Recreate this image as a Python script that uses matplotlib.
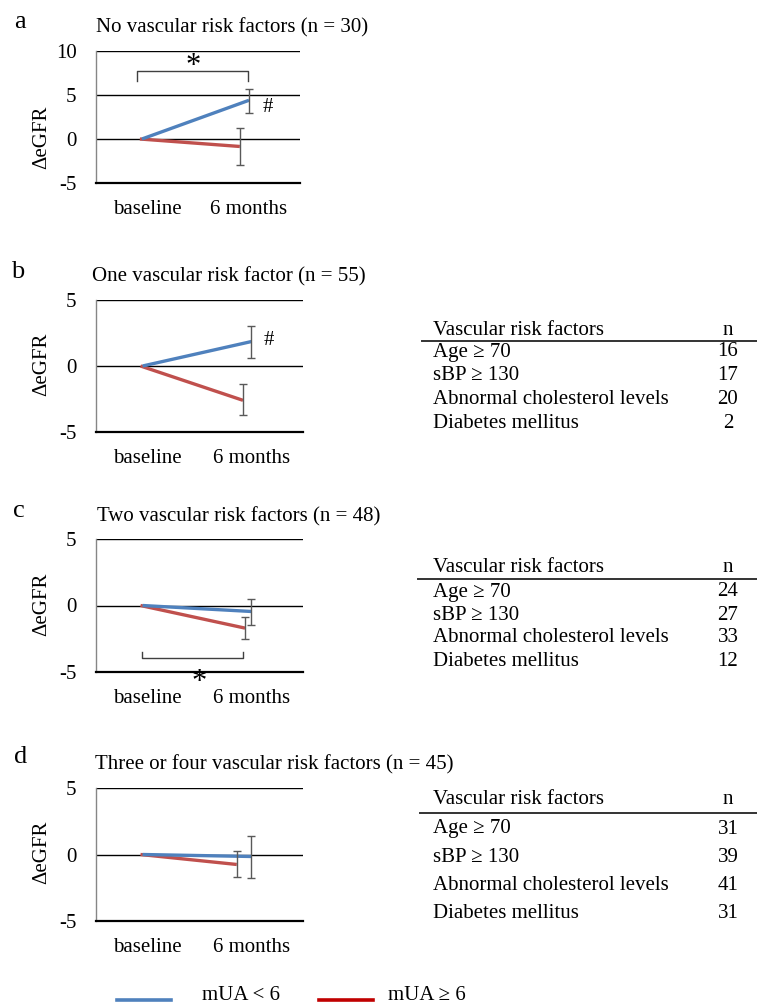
import matplotlib
matplotlib.use("Agg")
import matplotlib.pyplot as plt
import numpy as np

plt.rcParams['font.family'] = ['Liberation Serif', 'DejaVu Serif']

W, H = 757, 1006

# ---------------- data ----------------
panel_labels = ['a', 'b', 'c', 'd']
titles = ['No vascular risk factors (n = 30)',
          'One vascular risk factor (n = 55)',
          'Two vascular risk factors (n = 48)',
          'Three or four vascular risk factors (n = 45)']
categories = ['baseline', '6 months']

blue_6m = [4.4, 1.85, -0.45, -0.15]
blue_lo = [3.0, 0.6, -1.48, -1.74]
blue_hi = [5.65, 3.0, 0.5, 1.4]

red_6m = [-0.85, -2.6, -1.7, -0.75]
red_lo = [-2.95, -3.73, -2.55, -1.7]
red_hi = [1.25, -1.4, -0.83, 0.23]

baseline_val = 0.0

table_header = ['Vascular risk factors', 'n']
table_rows = ['Age \u2265 70', 'sBP \u2265 130', 'Abnormal cholesterol levels', 'Diabetes mellitus']
table_n_b = [16, 17, 20, 2]
table_n_c = [24, 27, 33, 12]
table_n_d = [31, 39, 41, 31]

legend_labels = ['mUA < 6', 'mUA \u2265 6']

# ---------------- style ----------------
BLUE = '#4F81BD'
RED = '#C0504D'
LEG_RED = '#C00000'
ERR = '#595959'
FS = 15

fig = plt.figure(figsize=(W / 100, H / 100), dpi=100)


def fx(x):
    return x / W


def fy(y):
    return 1 - y / H


def add_ax(x0, y0, x1, y1):
    return fig.add_axes([x0 / W, 1 - y1 / H, (x1 - x0) / W, (y1 - y0) / H])


axes_px = [(96, 51, 300, 183), (96, 300, 303, 432), (96, 539, 303, 672), (96, 788, 303, 921)]
ylims = [(-5, 10), (-5, 5), (-5, 5), (-5, 5)]
red_end_x = [0.91, 0.92, 0.94, 0.86]

for i in range(4):
    ax = add_ax(*axes_px[i])
    lo, hi = ylims[i]
    ax.set_xlim(-0.5, 1.5)
    ax.set_ylim(lo, hi)
    ticks = np.arange(lo, hi + 0.1, 5)
    ax.set_yticks(ticks)
    ax.set_yticklabels([f'{int(t)}' for t in ticks], fontsize=FS)
    for t in ticks[1:]:
        ax.axhline(t, color='black', lw=1.0, zorder=1)
    ax.set_xticks([0, 1])
    ax.set_xticklabels(categories, fontsize=FS)
    ax.tick_params(axis='both', length=0)
    ax.tick_params(axis='x', pad=12)
    ax.tick_params(axis='y', pad=14)
    for s in ['top', 'right']:
        ax.spines[s].set_visible(False)
    ax.spines['left'].set_color('#868686')
    ax.spines['left'].set_linewidth(1.0)
    ax.spines['bottom'].set_color('black')
    ax.spines['bottom'].set_linewidth(1.6)
    ax.patch.set_alpha(0)

    # series
    bx = [-0.05, 1.0]
    rx = [-0.07, red_end_x[i]]
    ax.plot(rx, [baseline_val, red_6m[i]], color=RED, lw=2.4, zorder=3, solid_capstyle='butt')
    ax.plot(bx, [baseline_val, blue_6m[i]], color=BLUE, lw=2.4, zorder=4, solid_capstyle='butt')
    ax.errorbar([rx[1]], [red_6m[i]],
                yerr=[[red_6m[i] - red_lo[i]], [red_hi[i] - red_6m[i]]],
                fmt='none', ecolor=ERR, elinewidth=1.0, capsize=2.8, capthick=1.0, zorder=5)
    ax.errorbar([bx[1]], [blue_6m[i]],
                yerr=[[blue_6m[i] - blue_lo[i]], [blue_hi[i] - blue_6m[i]]],
                fmt='none', ecolor=ERR, elinewidth=1.0, capsize=2.8, capthick=1.0, zorder=5)

    if i == 0:
        ax.plot([-0.1, -0.1, 0.99, 0.99], [6.6, 7.7, 7.7, 6.6], color='#404040', lw=1.0)
        ax.text(0.45, 8.2, '*', fontsize=22, ha='center', va='center')
        ax.text(1.18, 3.6, '#', fontsize=FS, ha='center', va='center')
    if i == 1:
        ax.text(1.17, 1.95, '#', fontsize=FS, ha='center', va='center')
    if i == 2:
        ax.plot([-0.06, -0.06, 0.92, 0.92], [-3.47, -3.97, -3.97, -3.47], color='#404040', lw=1.0)
        ax.text(0.5, -5.8, '*', fontsize=22, ha='center', va='center', clip_on=False, zorder=6)

# y labels
ylab_pos = [(42, 137), (42, 364), (42, 604), (42, 852)]
for (x, y) in ylab_pos:
    fig.text(fx(x), fy(y), '\u0394eGFR', rotation=90, ha='center', va='center', fontsize=FS)

# panel labels
plab_pos = [(20, 22), (18, 272), (19, 511), (21, 757)]
for lab, (x, y) in zip(panel_labels, plab_pos):
    fig.text(fx(x), fy(y), lab, ha='center', va='center', fontsize=19)

# titles
title_pos = [(96, 28), (92, 277), (97, 517), (95, 765)]
for t, (x, y) in zip(titles, title_pos):
    fig.text(fx(x), fy(y), t, ha='left', va='center', fontsize=FS)

# tables
tables = [
    (table_n_b, 330, 341, [352, 376, 399, 423], 422),
    (table_n_c, 567, 579, [592, 615, 638, 661], 418),
    (table_n_d, 800, 813, [829, 857, 885, 913], 420),
]
for nvals, hy, ly, rys, lx0 in tables:
    fig.text(fx(433), fy(hy), table_header[0], ha='left', va='center', fontsize=FS)
    fig.text(fx(728), fy(hy), table_header[1], ha='center', va='center', fontsize=FS)
    fig.add_artist(plt.Line2D([fx(lx0), fx(757)], [fy(ly), fy(ly)], color='#333333', lw=1.4))
    for name, n, ry in zip(table_rows, nvals, rys):
        fig.text(fx(433), fy(ry), name, ha='left', va='center', fontsize=FS)
        fig.text(fx(728), fy(ry), str(n), ha='center', va='center', fontsize=FS)

# legend
fig.add_artist(plt.Line2D([fx(117), fx(171)], [fy(1000), fy(1000)], color=BLUE, lw=2.6))
fig.text(fx(202), fy(1005.5), legend_labels[0], ha='left', va='bottom', fontsize=FS)
fig.add_artist(plt.Line2D([fx(319), fx(373)], [fy(1000), fy(1000)], color=LEG_RED, lw=2.6))
fig.text(fx(388), fy(1005.5), legend_labels[1], ha='left', va='bottom', fontsize=FS)

fig.savefig('out.png', dpi=100)
